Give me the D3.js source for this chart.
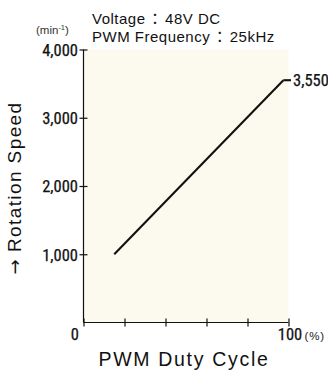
<!DOCTYPE html>
<html><head><meta charset="utf-8">
<script src="https://cdn.jsdelivr.net/npm/d3@7"></script>
<style>body{margin:0;background:#fff;}svg{display:block;}</style>
</head><body>
<script>
const dutyCycle = [15, 97.5];
const speed = [1000, 3550];
const yTicks = [1000, 2000, 3000, 4000];
const xTicks = [0, 20, 40, 60, 80, 100];
const endLabel = "3,550";
const titleLines = [["Voltage", "48V DC"], ["PWM Frequency", "25kHz"]];

const W = 328, H = 371;
const svg = d3.select("body").append("svg").attr("width", W).attr("height", H);
const x = d3.scaleLinear().domain([0, 100]).range([83.5, 288.5]);
const y = d3.scaleLinear().domain([0, 4000]).range([322.5, 49.5]);
const narrow = "'Liberation Sans Narrow', 'Roboto Condensed', 'Liberation Sans', sans-serif";
const sans = "'Liberation Sans', Arial, sans-serif";
const numStyle = s => s.attr("font-family", narrow).attr("font-size", 16.5).attr("fill", "#111")
  .attr("stroke", "#111").attr("stroke-width", 0.25);

svg.append("rect").attr("x", x(0)).attr("y", y(4000)).attr("width", x(100) - x(0)).attr("height", y(0) - y(4000)).attr("fill", "#fcf9ee");

const yAxis = svg.append("g").attr("transform", `translate(${x(0)},0)`)
  .call(d3.axisLeft(y).tickValues(yTicks).tickSize(4).tickFormat(d3.format(",")));
yAxis.select(".domain").attr("d", `M0,${y(0)}V${y(4000)}`);
yAxis.selectAll("line").attr("x1", -4).attr("x2", 4);
yAxis.selectAll("text").attr("x", -5.5).attr("dy", "0.36em").call(numStyle);

const xAxis = svg.append("g").attr("transform", `translate(0,${y(0)})`)
  .call(d3.axisBottom(x).tickValues(xTicks).tickSize(4).tickFormat(""));
xAxis.select(".domain").attr("d", `M${x(0)},0H${x(100)}`);
xAxis.selectAll("line").attr("y1", -4).attr("y2", 4);
svg.selectAll(".domain, .tick line").attr("stroke", "#111").attr("stroke-width", 1.2);

svg.append("text").attr("x", x(0) - 4.5).attr("y", 340).attr("text-anchor", "end").call(numStyle).text("0");
svg.append("text").attr("x", x(100) + 1.5).attr("y", 340).attr("text-anchor", "middle").call(numStyle).text("100");
svg.append("text").attr("x", x(100) + 16).attr("y", 340)
  .attr("font-family", sans).attr("font-size", 11.5).attr("letter-spacing", 0.8).attr("fill", "#222").text("(%)");

const line = d3.line().x((d, i) => x(dutyCycle[i])).y(d => y(d));
svg.append("path").datum(speed).attr("d", line).attr("fill", "none").attr("stroke", "#111").attr("stroke-width", 2.1);
svg.append("line").attr("x1", x(dutyCycle[1])).attr("x2", x(100) + 2.5)
  .attr("y1", y(speed[1])).attr("y2", y(speed[1])).attr("stroke", "#111").attr("stroke-width", 2.1);
svg.append("text").attr("x", x(100) + 4.5).attr("y", y(speed[1])).attr("dy", "0.36em").call(numStyle).text(endLabel);

const title = svg.selectAll(".title").data(titleLines).enter().append("text")
  .attr("x", 92).attr("y", (d, i) => 24 + i * 18)
  .attr("font-family", sans).attr("font-size", 15).attr("letter-spacing", 0.5).attr("fill", "#111");
title.append("tspan").text(d => d[0]);
title.append("tspan").attr("dx", 2).attr("font-family", "'Noto Sans CJK JP', sans-serif").text("：");
title.append("tspan").attr("dx", 2).text(d => d[1]);

const unit = svg.append("text").attr("x", 36).attr("y", 34).attr("font-family", sans).attr("font-size", 11.5).attr("fill", "#333");
unit.append("tspan").text("(min");
unit.append("tspan").attr("dy", -4).attr("font-size", 7.5).text("-1");
unit.append("tspan").attr("dy", 4).text(")");

const ylab = svg.append("text").attr("transform", "translate(21,188) rotate(-90)").attr("text-anchor", "middle")
  .attr("font-family", sans).attr("font-size", 19).attr("letter-spacing", 1.4).attr("fill", "#111");
ylab.append("tspan").attr("font-family", "'DejaVu Sans'").attr("font-size", 18).attr("fill", "#111").text("→");
ylab.append("tspan").attr("dx", 6).attr("font-family", sans).text("Rotation Speed");
svg.append("text").attr("x", 184).attr("y", 366).attr("text-anchor", "middle")
  .attr("font-family", sans).attr("font-size", 19.5).attr("letter-spacing", 1.7).attr("fill", "#111").text("PWM Duty Cycle");
</script>
</body></html>
